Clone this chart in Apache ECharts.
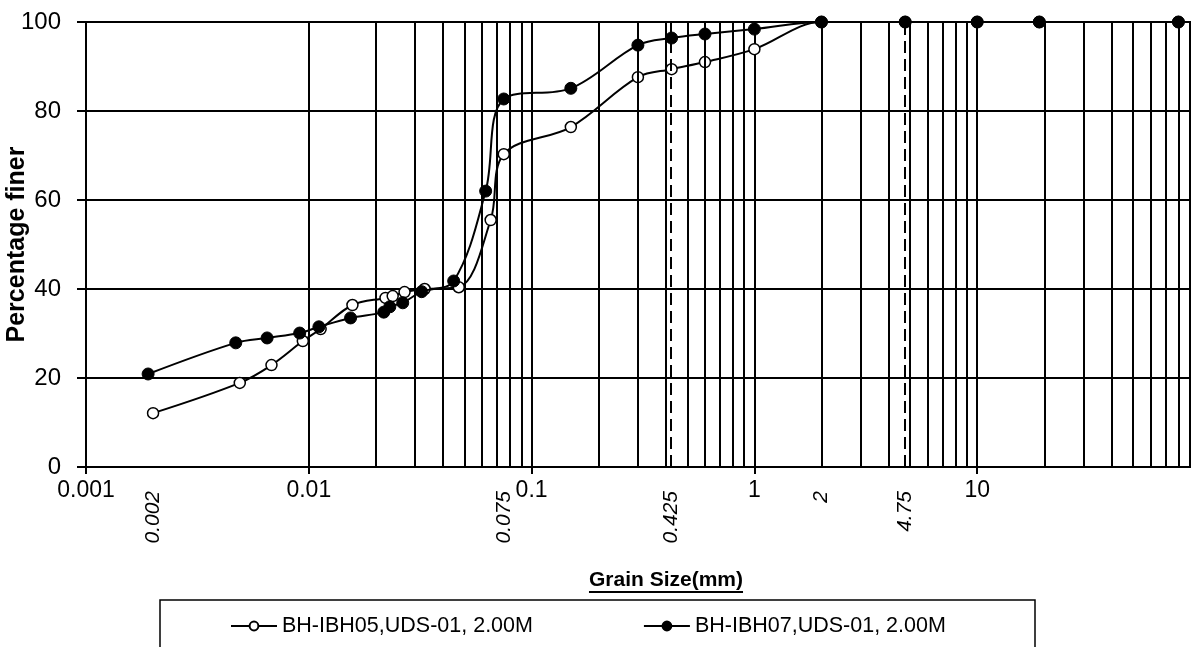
<!DOCTYPE html>
<html>
<head>
<meta charset="utf-8">
<script src="https://cdn.jsdelivr.net/npm/echarts@6/dist/echarts.min.js"></script>
<style>
  html, body { margin: 0; padding: 0; background: #fff; }
  #main { width: 1191px; height: 647px; }
</style>
</head>
<body>
<div id="main"></div>
<script>
// grain size (mm) and percentage finer
const sizes05 = [0.002, 0.0049, 0.0068, 0.0094, 0.0113, 0.0157, 0.0221, 0.0238, 0.0269, 0.0331, 0.0471, 0.0655, 0.075, 0.15, 0.3, 0.425, 0.6, 1, 2, 4.75, 10, 19, 80];
const finer05 = [12.1, 18.9, 22.9, 28.3, 31.0, 36.4, 38.0, 38.4, 39.3, 40.0, 40.4, 55.5, 70.3, 76.4, 87.6, 89.4, 91.0, 93.9, 100, 100, 100, 100, 100];
const sizes07 = [0.0019, 0.0047, 0.0065, 0.0091, 0.0111, 0.0154, 0.0217, 0.0231, 0.0264, 0.0321, 0.0447, 0.0622, 0.075, 0.15, 0.3, 0.425, 0.6, 1, 2, 4.75, 10, 19, 80];
const finer07 = [20.9, 27.9, 29.0, 30.1, 31.5, 33.5, 34.8, 36.0, 36.9, 39.4, 41.8, 62.0, 82.7, 85.1, 94.8, 96.4, 97.3, 98.4, 100, 100, 100, 100, 100];

const seriesNames = ['BH-IBH05,UDS-01, 2.00M', 'BH-IBH07,UDS-01, 2.00M'];

// dashed boundary sizes and their labels
const sieveValues = [0.002, 0.075, 0.425, 2, 4.75];
const sieveLabels = ['0.002', '0.075', '0.425', '2', '4.75'];

// log grid: 2..9 inside each decade
const minorGrid = [];
for (let e = -3; e < 2; e++) {
    for (let k = 2; k <= 9; k++) minorGrid.push(+(k * Math.pow(10, e)).toPrecision(2));
}

const chart = echarts.init(document.getElementById('main'));

const pair = (xs, ys) => xs.map((x, i) => [x, ys[i]]);

const option = {
    animation: false,
    backgroundColor: '#fff',
    textStyle: { fontFamily: 'Arial', color: '#000' },
    grid: { left: 86, top: 22, right: -9, bottom: 180, outerBoundsMode: 'none' },
    legend: {
        data: seriesNames,
        left: 225,
        top: 610,
        itemGap: 110,
        itemWidth: 46,
        itemHeight: 11,
        textStyle: { fontSize: 21.5, color: '#000', fontFamily: 'Arial' }
    },
    xAxis: {
        type: 'log',
        logBase: 10,
        min: 0.001,
        max: 100,
        axisLine: { lineStyle: { color: '#000', width: 2 } },
        axisTick: { show: true, inside: false, length: 7, lineStyle: { color: '#000', width: 2 } },
        axisLabel: {
            fontSize: 23,
            color: '#000',
            margin: 12,
            formatter: v => (v >= 100 ? '' : String(v))
        },
        splitLine: { show: true, lineStyle: { color: '#000', width: 2 } }
    },
    yAxis: {
        type: 'value',
        min: 0,
        max: 100,
        interval: 20,
        name: 'Percentage finer',
        nameLocation: 'middle',
        nameGap: 56,
        nameMoveOverlap: false,
        nameTextStyle: { fontSize: 25, fontWeight: 'bold', color: '#000' },
        axisLine: { show: true, lineStyle: { color: '#000', width: 2 } },
        axisTick: { show: true, inside: false, length: 9, lineStyle: { color: '#000', width: 2 } },
        axisLabel: { fontSize: 24, color: '#000', margin: 25 },
        splitLine: { show: true, lineStyle: { color: '#000', width: 2 } }
    },
    series: [
        {
            name: 'grid',
            type: 'line',
            data: [],
            z: 1,
            silent: true,
            markLine: {
                silent: true,
                symbol: ['none', 'none'],
                label: { show: false },
                lineStyle: { color: '#000', width: 2, type: 'solid' },
                data: minorGrid.map(v => ({ xAxis: v }))
                    .concat(sieveValues.map(v => ({ xAxis: v, lineStyle: { type: [12, 6], width: 2 } })))
            }
        },
        {
            name: seriesNames[0],
            type: 'line',
            z: 3,
            smooth: 0.35,
            data: pair(sizes05, finer05),
            symbol: 'circle',
            symbolSize: 11,
            lineStyle: { color: '#000', width: 2 },
            itemStyle: { color: '#fff', borderColor: '#000', borderWidth: 1.5 }
        },
        {
            name: seriesNames[1],
            type: 'line',
            z: 4,
            smooth: 0.35,
            data: pair(sizes07, finer07),
            symbol: 'circle',
            symbolSize: 12,
            lineStyle: { color: '#000', width: 2 },
            itemStyle: { color: '#000', borderColor: '#000', borderWidth: 1 }
        }
    ]
};

chart.setOption(option);

// rotated italic labels under the dashed lines, placed with the x scale
const ctx = document.createElement('canvas').getContext('2d');
ctx.font = 'bold 21px Arial';
const nameText = 'Grain Size(mm)';
const nameW = ctx.measureText(nameText).width;
const nameCx = 666, nameY = 580;

const graphics = sieveValues.map((v, i) => ({
    type: 'text',
    x: chart.convertToPixel({ xAxisIndex: 0 }, v),
    y: 491,
    rotation: Math.PI / 2,
    style: {
        text: sieveLabels[i],
        align: 'right',
        verticalAlign: 'middle',
        font: 'italic 21px Arial',
        fill: '#000'
    }
}));

graphics.push({
    type: 'text',
    x: nameCx,
    y: nameY,
    style: { text: nameText, align: 'center', verticalAlign: 'middle', font: 'bold 21px Arial', fill: '#000' }
});
graphics.push({
    type: 'line',
    shape: { x1: nameCx - nameW / 2, y1: nameY + 12, x2: nameCx + nameW / 2, y2: nameY + 12 },
    style: { stroke: '#000', lineWidth: 2 }
});
graphics.push({
    type: 'rect',
    shape: { x: 160, y: 600, width: 875, height: 60 },
    style: { fill: 'none', stroke: '#000', lineWidth: 1.5 }
});

chart.setOption({ graphic: graphics });
</script>
</body>
</html>
